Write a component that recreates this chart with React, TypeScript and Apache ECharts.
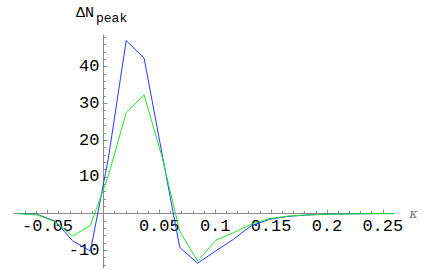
import React, { useEffect, useRef } from "react";
import * as echarts from "echarts";

const KAPPA = [-0.0755, -0.0595, -0.0435, -0.0276, -0.0116, 0.0044, 0.0204, 0.0364, 0.0524, 0.0683, 0.0843, 0.1003, 0.1163, 0.1322, 0.1482, 0.1642, 0.1802, 0.1962, 0.2121, 0.2281, 0.2441, 0.2601];
const BLUE = [0, -0.2, -2.0, -7.4, -10.2, 15, 47.1, 42.3, 16.4, -9.2, -13.5, -10.2, -7.0, -3.3, -1.6, -0.8, -0.4, -0.2, -0.1, -0.05, 0, 0];
const GREEN = [0, -0.3, -2.2, -6.1, -3.2, 10.3, 27.5, 32.3, 15.5, -4.8, -12.9, -7.3, -5.2, -2.9, -1.4, -0.7, -0.4, -0.2, -0.1, -0.05, 0, 0];

const X_LABELS = [-0.05, 0.05, 0.1, 0.15, 0.2, 0.25];
const X_MINOR = [-0.07, -0.06, -0.04, -0.03, -0.02, -0.01, 0.01, 0.02, 0.03, 0.04, 0.06, 0.07, 0.08, 0.09, 0.11, 0.12, 0.13, 0.14, 0.16, 0.17, 0.18, 0.19, 0.21, 0.22, 0.23, 0.24];
const Y_LABELS = [-10, 10, 20, 30, 40];
const Y_MINOR = [-14, -12, -8, -6, -4, -2, 2, 4, 6, 8, 12, 14, 16, 18, 22, 24, 26, 28, 32, 34, 36, 38, 42, 44, 46, 48];

const X_MIN = -0.08, X_MAX = 0.26, Y_MIN = -14.8, Y_MAX = 48.6;
const AXIS_COLOR = "#8a8a8a";
const LABEL_FONT = "Liberation Mono";

// grid box in pixels
const G_LEFT = 14, G_RIGHT = 42, G_TOP = 35, G_BOTTOM = 2, W = 436, H = 270;

export default function App() {
  const ref = useRef<HTMLDivElement>(null);
  useEffect(() => {
    const chart = echarts.init(ref.current!, null, { renderer: "svg" });
    const pair = (ys: number[]) => KAPPA.map((k, i) => [k, ys[i]]);
    // place the axes where the other axis is zero (Mathematica style crossing axes)
    const gw = W - G_LEFT - G_RIGHT;
    const gh = H - G_TOP - G_BOTTOM;
    const xOffset = -((0 - Y_MIN) / (Y_MAX - Y_MIN)) * gh;
    const yOffset = -((0 - X_MIN) / (X_MAX - X_MIN)) * gw;
    const baseX = {
      type: "value",
      min: X_MIN,
      max: X_MAX,
      position: "bottom",
      offset: xOffset,
      splitLine: { show: false },
    };
    const baseY = {
      type: "value",
      min: Y_MIN,
      max: Y_MAX,
      position: "left",
      offset: yOffset,
      splitLine: { show: false },
    };
    chart.setOption({
      animation: false,
      grid: { left: G_LEFT, right: G_RIGHT, top: G_TOP, bottom: G_BOTTOM, containLabel: false, outerBoundsMode: "none" },
      xAxis: [
        {
          ...baseX,
          name: "κ",
          nameLocation: "end",
          nameGap: 12,
          nameTextStyle: { fontFamily: "DejaVu Serif", fontStyle: "italic", fontSize: 13, color: "#777", padding: [4, 0, 0, 0] },
          axisLine: { onZero: false, lineStyle: { color: AXIS_COLOR, width: 1 } },
          axisTick: { show: true, inside: true, length: 4, customValues: X_LABELS, lineStyle: { color: AXIS_COLOR } },
          axisLabel: {
            show: true,
            customValues: X_LABELS,
            margin: 4,
            fontFamily: LABEL_FONT,
            fontSize: 17,
            color: "#000",
            formatter: (v: number) => String(v),
          },
        },
        {
          ...baseX,
          axisLine: { show: false, onZero: false },
          axisTick: { show: true, inside: true, length: 2.5, customValues: X_MINOR, lineStyle: { color: AXIS_COLOR } },
          axisLabel: { show: false },
        },
      ],
      yAxis: [
        {
          ...baseY,
          axisLine: { onZero: false, lineStyle: { color: AXIS_COLOR, width: 1 } },
          axisTick: { show: true, inside: true, length: 4, customValues: Y_LABELS, lineStyle: { color: AXIS_COLOR } },
          axisLabel: {
            show: true,
            customValues: Y_LABELS,
            margin: 4,
            fontFamily: LABEL_FONT,
            fontSize: 17,
            color: "#000",
            formatter: (v: number) => String(v),
          },
        },
        {
          ...baseY,
          axisLine: { show: false, onZero: false },
          axisTick: { show: true, inside: true, length: 2.5, customValues: Y_MINOR, lineStyle: { color: AXIS_COLOR } },
          axisLabel: { show: false },
        },
      ],
      graphic: [
        { type: "text", left: 76, top: 6, style: { text: "ΔN", font: `15px "${LABEL_FONT}"`, fill: "#000" } },
        { type: "text", left: 96, top: 12, style: { text: "peak", font: `13px "${LABEL_FONT}"`, fill: "#000" } },
      ],
      series: [
        {
          type: "line",
          xAxisIndex: 0,
          yAxisIndex: 0,
          data: pair(BLUE),
          showSymbol: false,
          symbol: "none",
          lineStyle: { color: "#1e3cff", width: 1 },
          itemStyle: { color: "#1e3cff" },
        },
        {
          type: "line",
          xAxisIndex: 0,
          yAxisIndex: 0,
          data: pair(GREEN),
          showSymbol: false,
          symbol: "none",
          lineStyle: { color: "#22e622", width: 1 },
          itemStyle: { color: "#22e622" },
        },
      ],
    });
    return () => chart.dispose();
  }, []);
  return <div ref={ref} style={{ width: W, height: H, position: "absolute", left: 0, top: 0 }} />;
}
